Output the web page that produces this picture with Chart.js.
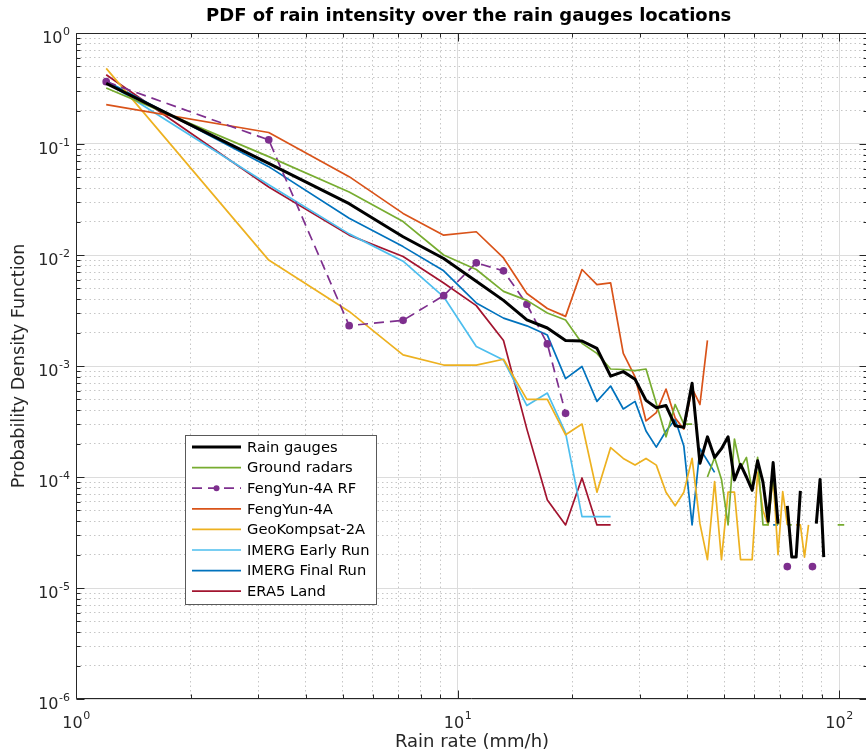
<!DOCTYPE html>
<html>
<head>
<meta charset="utf-8">
<title>PDF of rain intensity</title>
<script src="https://cdn.jsdelivr.net/npm/chart.js@4.4.1/dist/chart.umd.min.js"></script>
<style>
  html, body { margin: 0; padding: 0; background: #fff; }
  canvas { display: block; }
</style>
</head>
<body>
<canvas id="pdf" width="866" height="756"></canvas>
<script>
// bin centres (mm/h)
const rainRate = [1.2, 3.2, 5.2, 7.2, 9.2, 11.2, 13.2, 15.2, 17.2, 19.2,
  21.2, 23.2, 25.2, 27.2, 29.2, 31.2, 33.2, 35.2, 37.2, 39.2,
  41.2, 43.2, 45.2, 47.2, 49.2, 51.2, 53.2, 55.2, 57.2, 59.2,
  61.2, 63.2, 65.2, 67.2, 69.2, 71.2, 73.2, 75.2, 77.2, 79.2,
  81.2, 83.2, 85.2, 87.2, 89.2, 91.2, 93.2, 95.2, 97.2, 99.2,
  101.2, 103.2];

// probability density per bin, null where the bin is empty
const rainGauges = [0.352, 0.067, 0.029, 0.0146, 0.0093, 0.0058, 0.0039, 0.0026, 0.0022, 0.0017,
  0.00168, 0.00144, 0.00081, 0.00089, 0.00076, 0.00049, 0.00042, 0.00044, 0.00029, 0.00028,
  0.0007, 0.000133, 0.00023, 0.00015, 0.00018, 0.00023, 0.000094, 0.00013, 0.0001, 0.000076,
  0.00014, 0.00009, 0.00004, 0.000135, 0.000038, null, 0.000055, 0.000019, 0.000019, 0.000075,
  null, null, null, 0.000038, 0.000095, 0.000019];
const groundRadars = [0.32, 0.077, 0.037, 0.020, 0.0100, 0.0074, 0.0047, 0.0039, 0.0030, 0.0026,
  0.0016, 0.0013, 0.00094, 0.00093, 0.00091, 0.00094, 0.00046, 0.00023, 0.00045, 0.0003,
  0.0003, null, 0.0001, 0.00015, 0.000095, 0.000037, 0.00022, 0.00012, 0.00015, 0.000075,
  0.00015, 0.000037, 0.000037, 0.00011, 0.000037, null, 0.000037, 0.000037, null, null,
  null, null, null, null, null, null, null, null, null, 0.000037,
  0.000037, 0.000037];
const fy4aRF = [0.364, 0.109, 0.00231, 0.00258, 0.0043, 0.0085, 0.0072, 0.0036, 0.00158, 0.000375,
  null, null, null, null, null, null, null, null, null, null,
  null, null, null, null, null, null, null, null, null, null,
  null, null, null, null, null, null, 0.0000156, null, null, null,
  null, null, 0.0000156];
const fy4a = [0.226, 0.127, 0.0508, 0.0237, 0.0151, 0.0162, 0.0094, 0.0045, 0.0033, 0.0028,
  0.0074, 0.0054, 0.0056, 0.0013, 0.0008, 0.00032, 0.00038, 0.00062, 0.00034, 0.00027,
  0.00063, 0.00045, 0.0017];
const gk2a = [0.48, 0.009, 0.0031, 0.00126, 0.00102, 0.00102, 0.00115, 0.0005, 0.0005, 0.00024,
  0.0003, 0.000073, 0.000184, 0.000147, 0.000128, 0.000147, 0.000128, 0.000073, 0.000055, 0.000073,
  0.000147, 0.000038, 0.000018, 0.000091, 0.000018, 0.000073, 0.000073, 0.000018, 0.000018, 0.000018,
  0.00011, 0.00005, 0.000037, 0.0001, 0.00002, 0.000074, 0.000037, null, 0.000037, 0.000037,
  0.000019, 0.000037];
const imergEarly = [0.36, 0.043, 0.0155, 0.0088, 0.0042, 0.0015, 0.00113, 0.00044, 0.00057, 0.00025,
  0.000044, 0.000044, 0.000044];
const imergFinal = [0.37, 0.0625, 0.0214, 0.0119, 0.0072, 0.0037, 0.0027, 0.0023, 0.0019, 0.00077,
  0.00099, 0.00048, 0.00066, 0.00041, 0.00048, 0.00026, 0.000186, 0.00026, 0.00033, 0.00019,
  0.000037, 0.00018, 0.00014, 0.00011, null, null, null, null, null, null,
  null, null, null, 0.000037, 0.000037];
const era5Land = [0.42, 0.041, 0.0151, 0.0097, 0.0056, 0.0035, 0.0017, 0.00027, 0.000062, 0.000037,
  0.000098, 0.000037, 0.000037];

// axis ticks
const xTickValues = [1, 2, 3, 4, 5, 6, 7, 8, 9, 10, 20, 30, 40, 50, 60, 70, 80, 90, 100];
const yTickValues = [
  1e-6, 2e-6, 3e-6, 4e-6, 5e-6, 6e-6, 7e-6, 8e-6, 9e-6,
  1e-5, 2e-5, 3e-5, 4e-5, 5e-5, 6e-5, 7e-5, 8e-5, 9e-5,
  1e-4, 2e-4, 3e-4, 4e-4, 5e-4, 6e-4, 7e-4, 8e-4, 9e-4,
  1e-3, 2e-3, 3e-3, 4e-3, 5e-3, 6e-3, 7e-3, 8e-3, 9e-3,
  1e-2, 2e-2, 3e-2, 4e-2, 5e-2, 6e-2, 7e-2, 8e-2, 9e-2,
  0.1, 0.2, 0.3, 0.4, 0.5, 0.6, 0.7, 0.8, 0.9, 1];

const FONT = 'DejaVu Sans';
const AXIS_COLOR = '#262626';
const DECADE_PX = 381.5;   // horizontal length of one decade
const OVERHANG = 2;        // axes box runs this far past the canvas edge

const toPoints = (vals) => vals.map((v, i) => ({ x: rainRate[i], y: v }));

const isDecade = (v) => Math.abs(Math.log10(v) - Math.round(Math.log10(v))) < 1e-9;
const exponentOf = (v) => String(Math.round(Math.log10(v)));

function series(label, vals, color, width, extra) {
  return Object.assign({
    label,
    data: toPoints(vals),
    borderColor: color,
    backgroundColor: color,
    borderWidth: width,
    pointRadius: 0,
    pointHoverRadius: 0,
    spanGaps: false,
    tension: 0,
    borderJoinStyle: 'round',
  }, extra || {});
}

// push the right side of the plot area past the canvas edge
const wideArea = {
  id: 'wideArea',
  afterLayout(chart) {
    const a = chart.chartArea, x = chart.scales.x;
    a.right = chart.width + OVERHANG;
    a.width = a.right - a.left;
    x.right = a.right;
    x.width = a.width;
    x.configure();
  }
};

// frame with inward ticks; the right edge is off the canvas, only its ticks show
const frameTicks = {
  id: 'frameTicks',
  afterDatasetsDraw(chart) {
    const { ctx, chartArea: a, scales: { x, y } } = chart;
    ctx.save();
    ctx.strokeStyle = AXIS_COLOR;
    ctx.lineWidth = 1;
    ctx.setLineDash([]);
    ctx.beginPath();
    const L = Math.round(a.left) + 0.5, R = Math.round(a.right) - 0.5;
    const T = Math.round(a.top) + 0.5, B = Math.round(a.bottom) - 0.5;
    ctx.moveTo(R, T); ctx.lineTo(L, T); ctx.lineTo(L, B); ctx.lineTo(R, B);
    xTickValues.forEach(v => {
      const px = Math.round(x.getPixelForValue(v)) + 0.5;
      const len = isDecade(v) ? 8 : 4;
      ctx.moveTo(px, B); ctx.lineTo(px, B - len);
      ctx.moveTo(px, T); ctx.lineTo(px, T + len);
    });
    yTickValues.forEach(v => {
      const py = Math.round(y.getPixelForValue(v)) + 0.5;
      const len = isDecade(v) ? 8 : 4;
      ctx.moveTo(L, py); ctx.lineTo(L + len, py);
      ctx.moveTo(R, py); ctx.lineTo(R - len, py);
    });
    ctx.stroke();
    ctx.restore();
  }
};

// "10" with a raised exponent at every decade
const powerLabels = {
  id: 'powerLabels',
  afterDraw(chart) {
    const { ctx, chartArea: a, scales: { x, y } } = chart;
    const base = '16px "' + FONT + '"', sup = '11px "' + FONT + '"';
    ctx.save();
    ctx.fillStyle = AXIS_COLOR;
    ctx.textBaseline = 'alphabetic';
    ctx.textAlign = 'left';
    xTickValues.filter(isDecade).forEach(v => {
      const e = exponentOf(v);
      ctx.font = base; const w10 = ctx.measureText('10').width;
      ctx.font = sup; const we = ctx.measureText(e).width;
      const start = x.getPixelForValue(v) - (w10 + we) / 2;
      ctx.font = base; ctx.fillText('10', start, a.bottom + 29);
      ctx.font = sup; ctx.fillText(e, start + w10 + 0.5, a.bottom + 20);
    });
    ctx.textAlign = 'right';
    yTickValues.filter(isDecade).forEach(v => {
      const e = exponentOf(v);
      const py = y.getPixelForValue(v);
      const right = a.left - 6;
      ctx.font = sup; const we = ctx.measureText(e).width;
      ctx.fillText(e, right, py + 1.5);
      ctx.font = base; ctx.fillText('10', right - we - 0.5, py + 9.5);
    });
    ctx.restore();
  }
};

// boxed legend inside the axes
const boxLegend = {
  id: 'boxLegend',
  afterDraw(chart, args, opts) {
    const { ctx } = chart;
    const { left, top, width, height, rowTop, rowGap, lineFrom, lineTo, textX } = opts;
    ctx.save();
    ctx.fillStyle = '#fff';
    ctx.fillRect(left, top, width, height);
    ctx.strokeStyle = '#595959';
    ctx.lineWidth = 1;
    ctx.setLineDash([]);
    ctx.strokeRect(left + 0.5, top + 0.5, width, height);
    ctx.font = '14.7px "' + FONT + '"';
    ctx.textBaseline = 'middle';
    ctx.textAlign = 'left';
    chart.data.datasets.forEach((ds, i) => {
      const ry = rowTop + i * rowGap;
      ctx.strokeStyle = ds.borderColor;
      ctx.lineWidth = ds.borderWidth;
      ctx.setLineDash(ds.borderDash || []);
      ctx.beginPath();
      ctx.moveTo(lineFrom, ry);
      ctx.lineTo(lineTo, ry);
      ctx.stroke();
      if (ds.pointRadius > 0) {
        ctx.fillStyle = ds.borderColor;
        ctx.beginPath();
        ctx.arc((lineFrom + lineTo) / 2, ry, ds.pointRadius, 0, Math.PI * 2);
        ctx.fill();
      }
      ctx.setLineDash([]);
      ctx.fillStyle = '#000';
      ctx.fillText(ds.label, textX, ry + 1);
    });
    ctx.restore();
  }
};

const gridStyle = {
  color: (c) => (c.tick && c.tick.major) ? '#dcdcdc' : '#c6c6c6',
  lineWidth: 1,
  drawTicks: false,
};
const gridDash = (c) => (c.tick && c.tick.major) ? [] : [1.5, 3];

const chart = new Chart(document.getElementById('pdf'), {
  type: 'line',
  data: {
    datasets: [
      series('Rain gauges', rainGauges, '#000000', 3),
      series('Ground radars', groundRadars, '#77AC30', 1.7),
      series('FengYun-4A RF', fy4aRF, '#7E2F8E', 1.7, { borderDash: [10, 6], pointRadius: 3 }),
      series('FengYun-4A', fy4a, '#D95319', 1.7),
      series('GeoKompsat-2A', gk2a, '#EDB120', 1.7),
      series('IMERG Early Run', imergEarly, '#4DBEEE', 1.7),
      series('IMERG Final Run', imergFinal, '#0072BD', 1.7),
      series('ERA5 Land', era5Land, '#A2142F', 1.7),
    ]
  },
  options: {
    responsive: false,
    animation: false,
    devicePixelRatio: 1,
    layout: { padding: 0 },
    scales: {
      x: {
        type: 'logarithmic',
        min: 1,
        max: Math.pow(10, (866 + OVERHANG - 76) / DECADE_PX),
        afterBuildTicks: (scale) => {
          scale.ticks = xTickValues.map(v => ({ value: v, major: isDecade(v) }));
        },
        afterFit: (scale) => { scale.height = 57; },
        ticks: { display: false, autoSkip: false },
        grid: gridStyle,
        border: { display: false, dash: gridDash },
        title: {
          display: true,
          text: 'Rain rate (mm/h)',
          color: AXIS_COLOR,
          font: { family: FONT, size: 18 },
          padding: { top: 0, bottom: 3 },
        },
      },
      y: {
        type: 'logarithmic',
        min: 1e-6,
        max: 1,
        afterBuildTicks: (scale) => {
          scale.ticks = yTickValues.map(v => ({ value: v, major: isDecade(v) }));
        },
        afterFit: (scale) => { scale.width = 76; },
        ticks: { display: false, autoSkip: false },
        grid: gridStyle,
        border: { display: false, dash: gridDash },
        title: {
          display: true,
          text: 'Probability Density Function',
          color: AXIS_COLOR,
          font: { family: FONT, size: 17.5 },
          padding: { top: 9, bottom: 0 },
        },
      },
    },
    plugins: {
      legend: { display: false },
      tooltip: { enabled: false },
      title: {
        display: true,
        fullSize: false,
        text: 'PDF of rain intensity over the rain gauges locations',
        color: '#000',
        font: { family: FONT, size: 18, weight: 'bold' },
        padding: { top: 6, bottom: 5.4 },
      },
      boxLegend: {
        left: 185, top: 435, width: 191, height: 169,
        rowTop: 447, rowGap: 20.6, lineFrom: 192, lineTo: 241, textX: 247,
      },
    },
  },
  plugins: [wideArea, frameTicks, powerLabels, boxLegend],
});
</script>
</body>
</html>
